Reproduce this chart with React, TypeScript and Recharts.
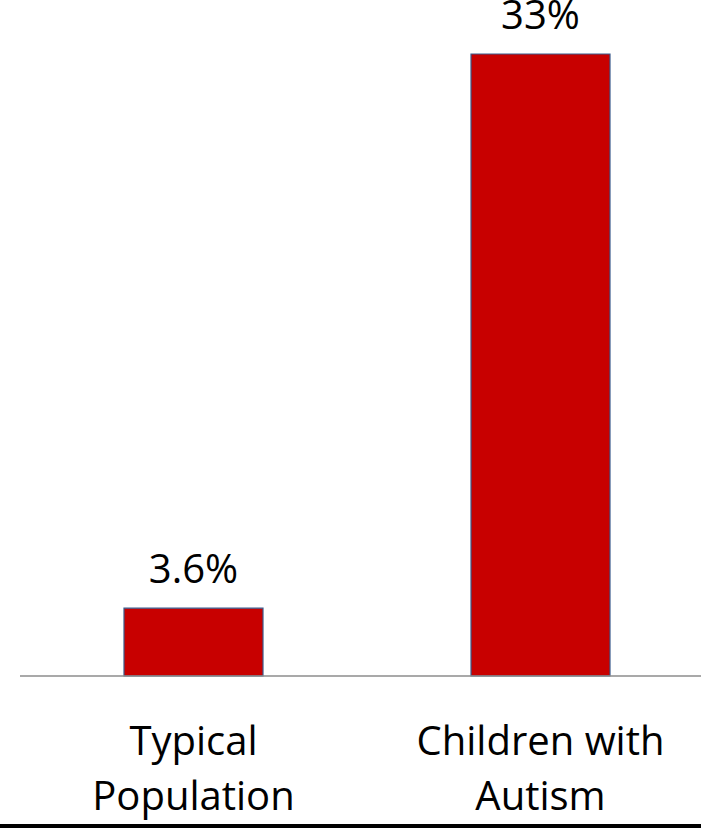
import React from 'react';
import { BarChart, Bar, XAxis, YAxis, LabelList } from 'recharts';

// Categories and their two-line tick labels
const categories = ['Typical Population', 'Children with Autism'];
const tickLines = [
  ['Typical', 'Population'],
  ['Children with', 'Autism'],
];
const values = [3.6, 33];

const data = categories.map((name, i) => ({ name, value: values[i] }));

const FONT = '"Open Sans", sans-serif';

// Two-line category label under the axis
const CategoryTick = (props: any) => {
  const { x, y, index } = props;
  const lines = tickLines[index] || [];
  return (
    <g transform={`translate(${x},${y})`}>
      <text textAnchor="middle" fontFamily={FONT} fontSize={40} fill="#000">
        {lines.map((line, i) => (
          <tspan key={i} x={0} y={71 + i * 55}>
            {line}
          </tspan>
        ))}
      </text>
    </g>
  );
};

export default function App() {
  return (
    <div style={{ position: 'fixed', left: 0, top: 0, width: 701, height: 828, overflow: 'hidden', background: '#fff' }}>
      <BarChart
        width={714}
        height={828}
        data={data}
        margin={{ top: 54, right: 0, left: 20, bottom: 12 }}
        barCategoryGap={0}
      >
        <YAxis hide domain={[0, 33]} />
        <XAxis
          dataKey="name"
          height={140}
          axisLine={{ stroke: '#8c8c8c', strokeWidth: 1.5 }}
          tickLine={false}
          tick={<CategoryTick />}
          interval={0}
        />
        <Bar
          dataKey="value"
          fill="#c80000"
          stroke="#3a5a8c"
          strokeWidth={1.2}
          barSize={139}
          isAnimationActive={false}
        >
          <LabelList
            dataKey="value"
            position="top"
            offset={25}
            formatter={(v: any) => `${v}%`}
            style={{ fontFamily: FONT, fontSize: 40, fill: '#000' }}
          />
        </Bar>
      </BarChart>
      <div style={{ position: 'absolute', left: 0, top: 824, width: 701, height: 4, background: '#000' }} />
    </div>
  );
}
